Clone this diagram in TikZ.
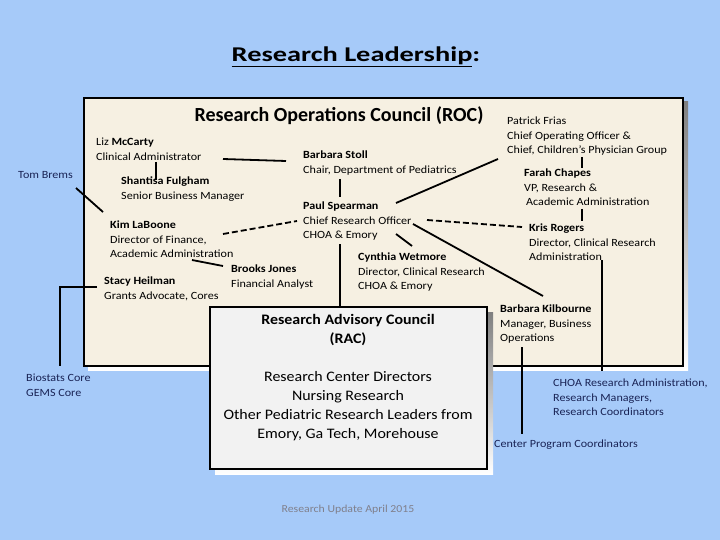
\documentclass[tikz,border=0pt]{standalone}
\usepackage{fontspec}
\setmainfont{Carlito}[FakeStretch=1.1]
\newfontfamily\plainfont{Carlito}
\newfontfamily\titlefont{Carlito}[FakeStretch=1.35]
\definecolor{bgblue}{RGB}{166,202,249}
\definecolor{rocfill}{RGB}{246,240,226}
\definecolor{racfill}{RGB}{242,242,242}
\definecolor{navy}{RGB}{25,35,85}
\definecolor{shade}{RGB}{125,125,125}
\definecolor{footgray}{RGB}{128,128,140}
\begin{document}
\begin{tikzpicture}[x=1pt,y=-1pt,
  lbl/.style={anchor=north west,inner sep=0pt,align=left,yshift=-2pt,font=\fontsize{11}{14.5}\selectfont},
  outlbl/.style={lbl,text=navy},
  conn/.style={line width=1.8pt,black},
  dconn/.style={conn,dash pattern=on 6pt off 3pt}]
\useasboundingbox (0,0) rectangle (720,540);
\fill[bgblue] (0,0) rectangle (720,540);
% title
\node[font=\titlefont\bfseries\fontsize{21}{25}\selectfont,inner sep=0pt] (title) at (356,57) {\underline{Research Leadership}:};
% ROC box
\fill[shade] (88,102) rectangle (688,370);
\node[draw=black,line width=2pt,fill=rocfill,minimum width=599pt,minimum height=268pt,inner sep=0pt] (roc) at (383.5,232) {};
\node[font=\plainfont\bfseries\fontsize{20}{24}\selectfont,inner sep=0pt] (roctitle) at (339,116) {Research Operations Council (ROC)};
% RAC box
\fill[shade] (215,312) rectangle (493,474);
\node[draw=black,line width=2pt,fill=racfill,minimum width=277pt,minimum height=162pt,inner sep=0pt] (rac) at (348.5,388) {};
\node[anchor=north,inner sep=0pt,align=center,font=\fontsize{14.5}{19}\selectfont] (ractext) at (348,314)
  {\textbf{Research Advisory Council}\\\textbf{(RAC)}\\[19pt]Research Center Directors\\Nursing Research\\Other Pediatric Research Leaders from\\Emory, Ga Tech, Morehouse};
% labels
\node[outlbl,anchor=west] (tom) at (18,173) {Tom Brems};
\node[lbl] (liz) at (96,136) {Liz \textbf{McCarty}\\Clinical Administrator};
\node[lbl] (shan) at (121,175) {\textbf{Shantisa Fulgham}\\Senior Business Manager};
\node[lbl] (kim) at (110,219) {\textbf{Kim LaBoone}\\Director of Finance,\\Academic Administration};
\node[lbl] (brooks) at (231,263) {\textbf{Brooks Jones}\\Financial Analyst};
\node[lbl] (stacy) at (104,275) {\textbf{Stacy Heilman}\\Grants Advocate, Cores};
\node[lbl] (barbs) at (303,149) {\textbf{Barbara Stoll}\\Chair, Department of Pediatrics};
\node[lbl] (paul) at (303,200) {\textbf{Paul Spearman}\\Chief Research Officer\\CHOA \& Emory};
\node[lbl] (cyn) at (358,251) {\textbf{Cynthia Wetmore}\\Director, Clinical Research\\CHOA \& Emory};
\node[lbl] (pat) at (507,115) {Patrick Frias\\Chief Operating Officer \&\\Chief, Children's Physician Group};
\node[lbl] (farah) at (524,167) {\textbf{Farah Chapes}\\VP, Research \&\\\hspace{2pt}Academic Administration};
\node[lbl] (kris) at (529,222) {\textbf{Kris Rogers}\\Director, Clinical Research\\Administration};
\node[lbl] (bk) at (500,303) {\textbf{Barbara Kilbourne}\\Manager, Business\\Operations};
\node[outlbl] (choa) at (553,377) {CHOA Research Administration,\\Research Managers,\\Research Coordinators};
\node[outlbl,anchor=west] (cpc) at (494,443) {Center Program Coordinators};
\node[outlbl] (bio) at (26,372) {Biostats Core\\GEMS Core};
\node[inner sep=0pt,text=footgray,font=\fontsize{10.7}{12}\selectfont] (foot) at (348,510) {Research Update April 2015};
% connector end points
\coordinate (tomA) at (76,188);   \coordinate (tomB) at (103,212);
\coordinate (lizA) at (156,162);  \coordinate (lizB) at (156,180);
\coordinate (lizC) at (223,159);  \coordinate (lizD) at (286,161);
\coordinate (kimA) at (223,234);  \coordinate (kimB) at (297,221);
\coordinate (kimC) at (192,260);  \coordinate (kimD) at (223,266);
\coordinate (stA) at (97,287);    \coordinate (stB) at (60,287);  \coordinate (stC) at (60,366);
\coordinate (bsA) at (340,179);   \coordinate (bsB) at (340,197);
\coordinate (psA) at (396,203);   \coordinate (psB) at (498,159);
\coordinate (psC) at (427,220);   \coordinate (psD) at (522,227);
\coordinate (psE) at (413,224);   \coordinate (psF) at (543,296);
\coordinate (psG) at (396,234);   \coordinate (psH) at (412,246);
\coordinate (psI) at (340,244);
\coordinate (pfA) at (582,157);   \coordinate (pfB) at (582,168);
\coordinate (fcA) at (582,209);   \coordinate (fcB) at (582,221);
\coordinate (krA) at (602,260);   \coordinate (krB) at (602,371);
\coordinate (bkA) at (522,347);   \coordinate (bkB) at (522,434);
% connectors
\draw[conn] (tomA) -- (tomB);
\draw[conn] (lizA) -- (lizB);
\draw[conn] (lizC) -- (lizD);
\draw[dconn] (kimA) -- (kimB);
\draw[conn] (kimC) -- (kimD);
\draw[conn] (stA) -- (stB) -- (stC);
\draw[conn] (bsA) -- (bsB);
\draw[conn] (psA) -- (psB);
\draw[dconn] (psC) -- (psD);
\draw[conn] (psE) -- (psF);
\draw[conn] (psG) -- (psH);
\draw[conn] (psI) -- (rac.north -| psI);
\draw[conn] (pfA) -- (pfB);
\draw[conn] (fcA) -- (fcB);
\draw[conn] (krA) -- (krB);
\draw[conn] (bkA) -- (bkB);
\end{tikzpicture}
\end{document}
